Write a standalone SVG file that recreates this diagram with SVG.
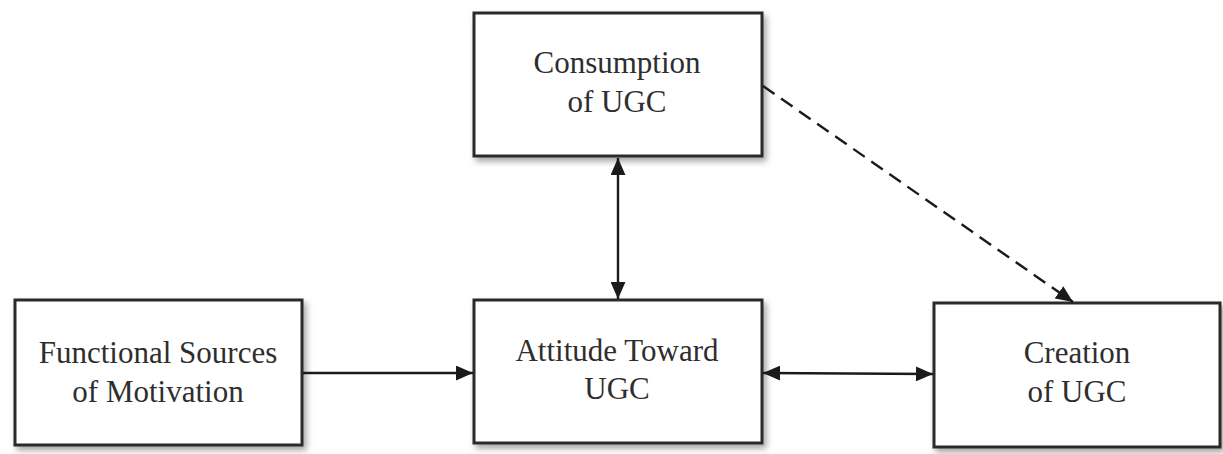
<svg xmlns="http://www.w3.org/2000/svg" width="1223" height="454" viewBox="0 0 1223 454">
<style>
.box{fill:#fff;stroke:#2b2b2b;stroke-width:3;filter:url(#sh)}
.t{font-family:"Liberation Serif","Times New Roman",serif;font-size:31px;fill:#2e2e2e;text-anchor:middle}
.c{stroke:#1a1a1a;stroke-width:2.4;fill:none}
.d{stroke-dasharray:14 8}
</style>
<defs>
<filter id="sh" x="-10%" y="-10%" width="125%" height="130%">
<feDropShadow dx="3" dy="4" stdDeviation="3" flood-color="#000" flood-opacity="0.35"/>
</filter>
<marker id="a" viewBox="0 0 16 14" refX="16" refY="7" markerWidth="17" markerHeight="15" orient="auto-start-reverse" markerUnits="userSpaceOnUse">
<path d="M0,0 L16,7 L0,14 z" fill="#1a1a1a"/>
</marker>
</defs>
<rect width="1223" height="454" fill="#fff"/>
<g id="node-functional">
<rect class="box" x="15" y="300" width="287" height="145"/>
<text class="t" x="158" y="363">Functional Sources</text>
<text class="t" x="158" y="402">of Motivation</text>
</g>
<g id="node-consumption">
<rect class="box" x="474" y="13" width="288" height="143"/>
<text class="t" x="617" y="73">Consumption</text>
<text class="t" x="617" y="112">of UGC</text>
</g>
<g id="node-attitude">
<rect class="box" x="474" y="300" width="288" height="143"/>
<text class="t" x="617" y="361">Attitude Toward</text>
<text class="t" x="617" y="399">UGC</text>
</g>
<g id="node-creation">
<rect class="box" x="934" y="303" width="286" height="144"/>
<text class="t" x="1077" y="363">Creation</text>
<text class="t" x="1077" y="402">of UGC</text>
</g>
<g id="connectors">
<line class="c" x1="303" y1="373" x2="473" y2="373" marker-end="url(#a)"/>
<line class="c" x1="763" y1="373" x2="933" y2="374" marker-start="url(#a)" marker-end="url(#a)"/>
<line class="c" x1="618" y1="158" x2="618" y2="299" marker-start="url(#a)" marker-end="url(#a)"/>
<line class="c d" x1="763" y1="86" x2="1073" y2="302" marker-end="url(#a)"/>
</g>
</svg>
